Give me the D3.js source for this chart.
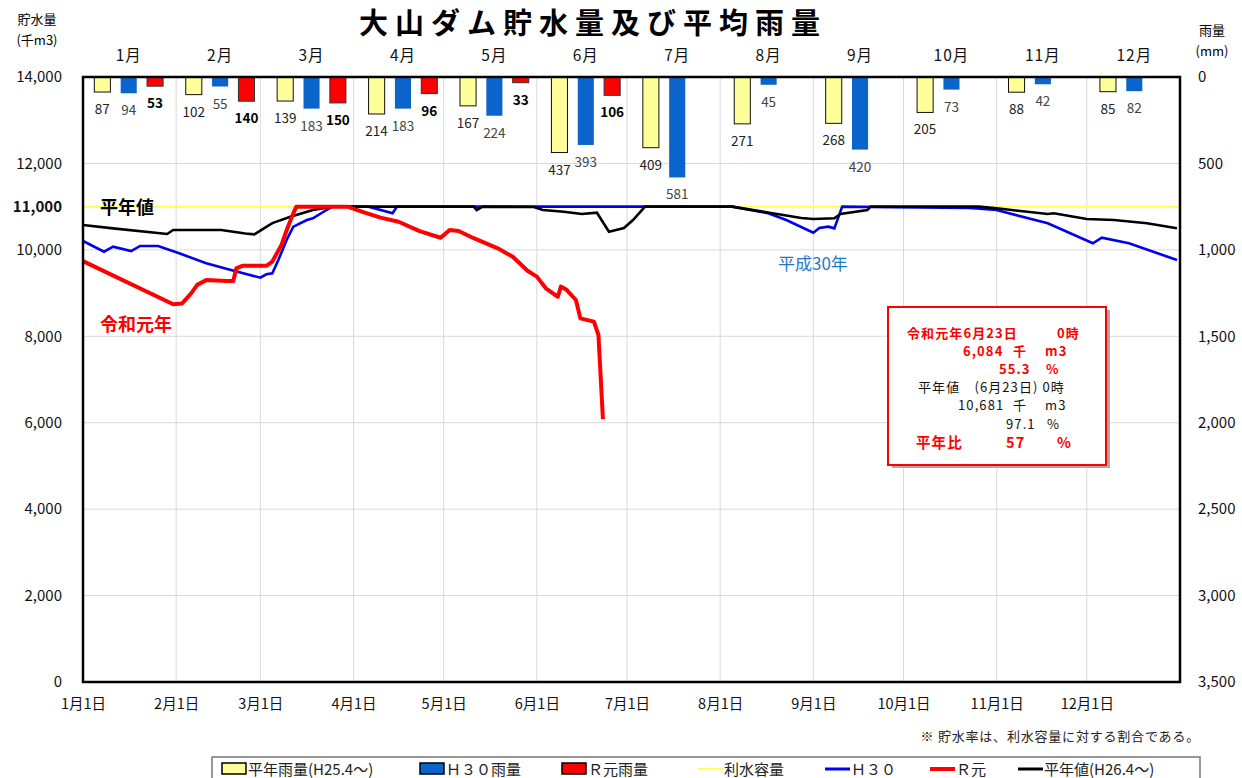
<!DOCTYPE html>
<html>
<head>
<meta charset="utf-8">
<script src="https://cdn.jsdelivr.net/npm/d3@7"></script>
<style>
  body { margin: 0; background: #fff; }
  text { font-family: "Noto Sans CJK JP", "Noto Sans", sans-serif; }
</style>
</head>
<body>
<div id="chart"></div>
<script>
// data
const months = ['1月','2月','3月','4月','5月','6月','7月','8月','9月','10月','11月','12月']
const dateLabels = ['1月1日','2月1日','3月1日','4月1日','5月1日','6月1日','7月1日','8月1日','9月1日','10月1日','11月1日','12月1日']
const monthStartDays = [0,31,59,90,120,151,181,212,243,273,304,334]

const rainAvg = [87,102,139,214,167,437,409,271,268,205,88,85]
const rainH30 = [94,55,183,183,224,393,581,45,420,73,42,82]
const rainR1  = [53,140,150,96,33,106]

const storageTicks = [0,2000,4000,6000,8000,10000,11000,12000,14000]
const rainTicks = [0,500,1000,1500,2000,2500,3000,3500]
const capacity = 11000

// [day of year, 千m3]
const storageR1 = [[0,9740],[30,8740],[33,8760],[36,8995],[38,9190],[41,9300],[48,9280],[50,9280],[51,9570],
  [53,9630],[61,9630],[63,9730],[66,10110],[68,10500],[70,10850],[71,11000],[88,11000],[93,10880],[99,10745],
  [105,10650],[112,10435],[119,10280],[122,10460],[125,10435],[130,10270],[138,10035],[143,9840],[148,9510],
  [151,9380],[154,9110],[158,8915],[159,9150],[161,9070],[164,8840],[165.5,8415],[170,8340],[171.5,8030],[173,6084]]

const storageH30 = [[0,10205],[7,9957],[10,10073],[16,9973],[19,10090],[25,10090],[32,9920],[41,9690],[48,9557],
  [59,9356],[61,9434],[63,9457],[65,9765],[68,10267],[70,10536],[74.5,10690],[76.5,10730],[81,10922],[83,11000],
  [95,11000],[103,10846],[104.5,11000],[216,11000],[228,10846],[234,10690],[243,10397],[245,10506],[248,10536],
  [250,10498],[252.6,11000],[295,10970],[304,10922],[321,10614],[336,10152],[339,10281],[348,10152],[364,9765]]

const storageAvg = [[0,10575],[10,10498],[28,10367],[30,10459],[46,10459],[54,10380],[57,10360],[63,10620],
  [69,10767],[76.5,10922],[83,11000],[130,11000],[131,10922],[133,11000],[150,10990],[153,10922],[160,10880],
  [166,10829],[171,10860],[175,10420],[180,10506],[183,10690],[187,11000],[216,11000],[239,10737],[243,10714],
  [250,10730],[252,10829],[261,10922],[262,11000],[298,11000],[304,10961],[321,10829],[323,10846],[334,10714],
  [343,10690],[354,10614],[364,10498]]

const W = 1242, H = 778
const m = {left: 83, right: 62, top: 77, bottom: 96}

const svg = d3.select('#chart')
  .append('svg')
  .attr('width', W)
  .attr('height', H)

// Scales
const x = d3.scaleLinear().domain([0, 365]).range([m.left, W - m.right])
const yL = d3.scaleLinear().domain([0, 14000]).range([H - m.bottom, m.top])
const yR = d3.scaleLinear().domain([0, 3500]).range([m.top, H - m.bottom])
const xMonth = d3.scaleBand().domain(months).range([m.left, W - m.right])
const xSeries = d3.scaleBand().domain(['avg','h30','r1'])
  .range([0, xMonth.bandwidth()]).paddingInner(0.39).paddingOuter(0.43)

// grid
svg.append('g')
  .selectAll('line')
  .data(storageTicks.filter(d => d !== 0 && d !== 14000 && d !== capacity))
  .enter().append('line')
    .attr('x1', m.left).attr('x2', W - m.right)
    .attr('y1', d => yL(d)).attr('y2', d => yL(d))
    .attr('stroke', '#d9d9d9')

svg.append('g')
  .selectAll('line')
  .data(monthStartDays.slice(1))
  .enter().append('line')
    .attr('x1', d => x(d)).attr('x2', d => x(d))
    .attr('y1', m.top).attr('y2', H - m.bottom)
    .attr('stroke', '#d9d9d9')

// Axes
const leftAxis = svg.append('g')
  .attr('transform', `translate(${m.left},0)`)
  .call(d3.axisLeft(yL).tickValues(storageTicks).tickSize(0).tickPadding(21).tickFormat(d3.format(',')))
leftAxis.select('.domain').remove()
leftAxis.selectAll('text')
  .attr('font-size', 15).attr('fill', '#111')
  .attr('font-weight', d => d === capacity ? 'bold' : 'normal')

const rightAxis = svg.append('g')
  .attr('transform', `translate(${W - m.right},0)`)
  .call(d3.axisRight(yR).tickValues(rainTicks).tickSize(0).tickPadding(18).tickFormat(d3.format(',')))
rightAxis.select('.domain').remove()
rightAxis.selectAll('text').attr('font-size', 15).attr('fill', '#111')

const bottomAxis = svg.append('g')
  .attr('transform', `translate(0,${H - m.bottom})`)
  .call(d3.axisBottom(x).tickValues(monthStartDays).tickSize(0).tickPadding(17)
    .tickFormat((d, i) => dateLabels[i]))
bottomAxis.select('.domain').remove()
bottomAxis.selectAll('text').attr('font-size', 14.5).attr('fill', '#111')

// month labels on top
svg.append('g')
  .selectAll('text')
  .data(months)
  .enter().append('text')
    .attr('x', d => xMonth(d) + xMonth.bandwidth() / 2)
    .attr('y', 61)
    .attr('text-anchor', 'middle')
    .attr('font-size', 15.5)
    .attr('letter-spacing', 1)
    .attr('fill', '#111')
    .text(d => d)

// capacity line
svg.append('line')
  .attr('x1', m.left).attr('x2', W - m.right)
  .attr('y1', yL(capacity)).attr('y2', yL(capacity))
  .attr('stroke', '#ffff55').attr('stroke-width', 2)

// storage lines
const line = d3.line().x(d => x(d[0])).y(d => yL(d[1]))
svg.append('path').datum(storageH30).attr('d', line)
  .attr('fill', 'none').attr('stroke', '#0000ee').attr('stroke-width', 2.6)
svg.append('path').datum(storageAvg).attr('d', line)
  .attr('fill', 'none').attr('stroke', '#000').attr('stroke-width', 2.6)
svg.append('path').datum(storageR1).attr('d', line)
  .attr('fill', 'none').attr('stroke', '#ff0000').attr('stroke-width', 4).attr('stroke-linejoin', 'round')

// rain bars
const series = [
  {key: 'avg', values: rainAvg, fill: '#ffff99', stroke: '#111', label: '#222', weight: 'normal'},
  {key: 'h30', values: rainH30, fill: '#0a64cc', stroke: 'none', label: '#444', weight: 'normal'},
  {key: 'r1',  values: rainR1,  fill: '#ff0000', stroke: '#333', label: '#000', weight: 'bold'}
]
series.forEach(s => {
  const gs = svg.append('g')
  const rows = s.values.map((v, i) => ({month: months[i], v}))
  gs.selectAll('rect')
    .data(rows).enter()
    .append('rect')
      .attr('x', d => xMonth(d.month) + xSeries(s.key))
      .attr('y', yR(0))
      .attr('width', xSeries.bandwidth())
      .attr('height', d => yR(d.v) - yR(0))
      .attr('fill', s.fill)
      .attr('stroke', s.stroke)
      .attr('stroke-width', 1)
  gs.selectAll('text')
    .data(rows).enter()
    .append('text')
      .attr('x', d => xMonth(d.month) + xSeries(s.key) + xSeries.bandwidth() / 2)
      .attr('y', d => yR(d.v) + 22)
      .attr('text-anchor', 'middle')
      .attr('font-size', 13.5)
      .attr('font-weight', s.weight)
      .attr('fill', s.label)
      .text(d => d.v)
})

// plot frame
svg.append('rect')
  .attr('x', m.left).attr('y', m.top)
  .attr('width', W - m.left - m.right).attr('height', H - m.top - m.bottom)
  .attr('fill', 'none').attr('stroke', '#000').attr('stroke-width', 2.5)

// titles
svg.append('text')
  .attr('x', 593).attr('y', 34)
  .attr('text-anchor', 'middle')
  .attr('font-size', 29).attr('font-weight', 'bold').attr('letter-spacing', 7)
  .text('大山ダム貯水量及び平均雨量')

svg.append('text').attr('x', 37).attr('y', 24).attr('text-anchor', 'middle')
  .attr('font-size', 13).text('貯水量')
svg.append('text').attr('x', 37).attr('y', 45).attr('text-anchor', 'middle')
  .attr('font-size', 13).text('(千m3)')
svg.append('text').attr('x', 1212).attr('y', 35).attr('text-anchor', 'middle')
  .attr('font-size', 13).text('雨量')
svg.append('text').attr('x', 1212).attr('y', 56).attr('text-anchor', 'middle')
  .attr('font-size', 13).text('(mm)')

// series labels
svg.append('text').attr('x', 100).attr('y', 214)
  .attr('font-size', 18).attr('font-weight', 'bold').text('平年値')
svg.append('text').attr('x', 100).attr('y', 331)
  .attr('font-size', 18).attr('font-weight', 'bold').attr('fill', '#ff0000').text('令和元年')
svg.append('text').attr('x', 778).attr('y', 270)
  .attr('font-size', 17).attr('fill', '#1f78c8').text('平成30年')

// info box
const box = svg.append('g')
box.append('rect').attr('x', 892).attr('y', 310).attr('width', 218).attr('height', 158)
  .attr('fill', '#aaa')
box.append('rect').attr('x', 888).attr('y', 307).attr('width', 218).attr('height', 158)
  .attr('fill', '#fff').attr('stroke', '#ff0000').attr('stroke-width', 2)
const info = [
  {x: 907, y: 338, t: '令和元年6月23日', c: '#f00', b: true},
  {x: 1057, y: 338, t: '0時', c: '#f00', b: true},
  {x: 963, y: 356, t: '6,084', c: '#f00', b: true},
  {x: 1013, y: 356, t: '千', c: '#f00', b: true},
  {x: 1045, y: 356, t: 'm3', c: '#f00', b: true},
  {x: 999, y: 374, t: '55.3', c: '#f00', b: true},
  {x: 1046, y: 374, t: '%', c: '#f00', b: true},
  {x: 918, y: 392, t: '平年値　(6月23日) 0時', c: '#111', b: false},
  {x: 958, y: 410, t: '10,681', c: '#111', b: false},
  {x: 1013, y: 410, t: '千', c: '#111', b: false},
  {x: 1045, y: 410, t: 'm3', c: '#111', b: false},
  {x: 1006, y: 429, t: '97.1', c: '#111', b: false},
  {x: 1047, y: 429, t: '%', c: '#111', b: false},
  {x: 916, y: 448, t: '平年比', c: '#f00', b: true, s: 14.5},
  {x: 1006, y: 448, t: '57', c: '#f00', b: true, s: 14.5},
  {x: 1057, y: 448, t: '%', c: '#f00', b: true, s: 14.5}
]
box.selectAll('text.info')
  .data(info).enter()
  .append('text')
    .attr('x', d => d.x).attr('y', d => d.y)
    .attr('font-size', d => d.s || 13)
    .attr('letter-spacing', 1.1)
    .attr('font-weight', d => d.b ? 'bold' : 'normal')
    .attr('fill', d => d.c)
    .text(d => d.t)

// footnote
svg.append('text').attr('x', 1200).attr('y', 741).attr('text-anchor', 'end')
  .attr('font-size', 13).attr('letter-spacing', 0.8).attr('fill', '#222')
  .text('※ 貯水率は、利水容量に対する割合である。')

// legend
svg.append('rect').attr('x', 212).attr('y', 757).attr('width', 988).attr('height', 40)
  .attr('fill', '#fff').attr('stroke', '#777').attr('stroke-width', 1.5)
const legend = [
  {x: 222, type: 'bar', c: '#ffff99', t: '平年雨量(H25.4〜)'},
  {x: 420, type: 'bar', c: '#0a64cc', t: 'Ｈ３０雨量'},
  {x: 562, type: 'bar', c: '#ff0000', t: 'Ｒ元雨量'},
  {x: 698, type: 'line', c: '#ffff55', w: 2, t: '利水容量'},
  {x: 825, type: 'line', c: '#0000ee', w: 3, t: 'Ｈ３０'},
  {x: 930, type: 'line', c: '#ff0000', w: 4, t: 'Ｒ元'},
  {x: 1018, type: 'line', c: '#000', w: 3, t: '平年値(H26.4〜)'}
]
const lg = svg.append('g').selectAll('g').data(legend).enter().append('g')
lg.filter(d => d.type === 'bar').append('rect')
  .attr('x', d => d.x).attr('y', 763).attr('width', 24).attr('height', 11)
  .attr('fill', d => d.c).attr('stroke', '#000').attr('stroke-width', 1.5)
lg.filter(d => d.type === 'line').append('line')
  .attr('x1', d => d.x).attr('x2', d => d.x + 25).attr('y1', 769).attr('y2', 769)
  .attr('stroke', d => d.c).attr('stroke-width', d => d.w)
lg.append('text')
  .attr('x', d => d.x + 26).attr('y', 775)
  .attr('font-size', 15).attr('fill', '#222')
  .text(d => d.t)
</script>
</body>
</html>
